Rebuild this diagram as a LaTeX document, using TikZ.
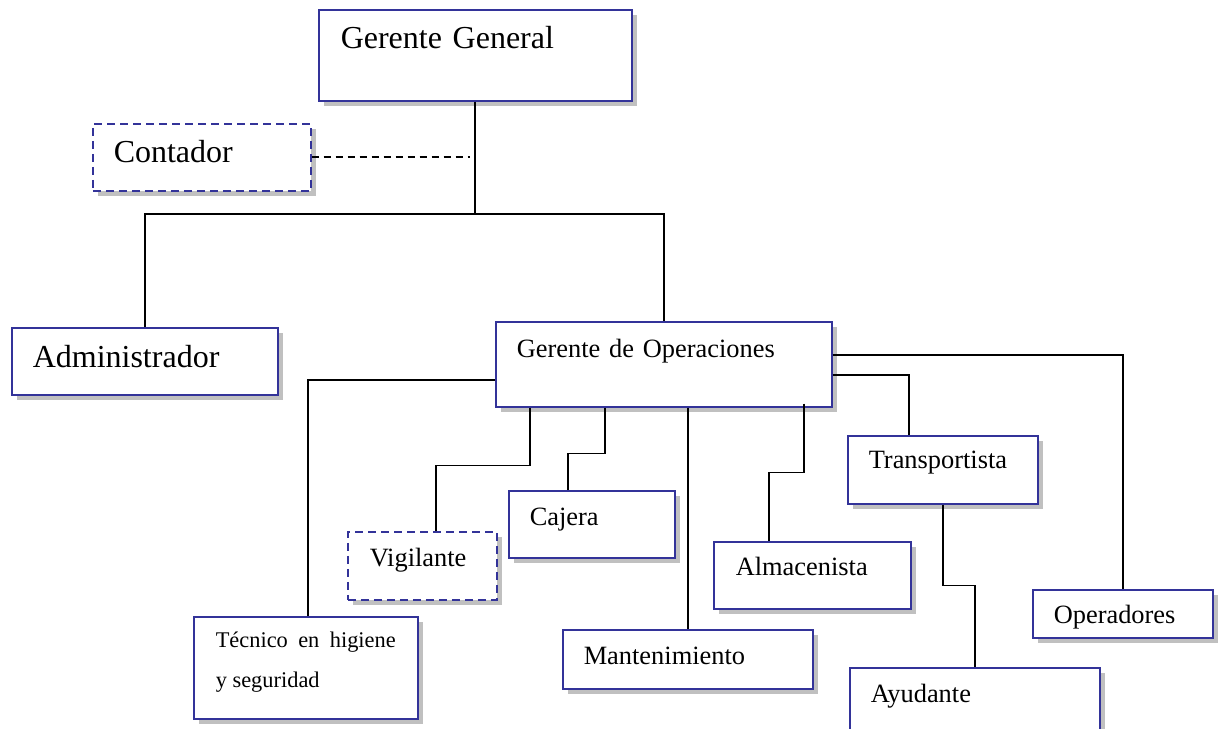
\documentclass[tikz,border=0pt]{standalone}
\usepackage{fontspec}
\setmainfont{Liberation Serif}
\usepackage{tikz}
\usepackage{xcolor}
\usetikzlibrary{positioning, shadows, calc}
\definecolor{cBorde}{HTML}{333399}
\definecolor{cSombra}{HTML}{C0C0C0}
\tikzset{
  cargo/.style={
    draw=cBorde, line width=0.75pt,
    fill=white,
    anchor=north west,
    inner xsep=10.5pt, inner ysep=0pt,
    align=left,
    font=\fontsize{13.2}{16}\selectfont,
    drop shadow={shadow xshift=2.75pt, shadow yshift=-2.75pt, fill=cSombra, opacity=1}
  },
  cargogrande/.style={
    cargo,
    font=\fontsize{16}{19}\selectfont
  },
  punteado/.style={
    dash pattern=on 4pt off 2.5pt
  },
  caja/.style n args={3}{
    text width=#1, text height=#2, text depth=#3
  },
  linea/.style={
    line width=0.8pt,
    draw=black
  }
}

\begin{document}
\begin{tikzpicture}[x=0.5pt, y=-0.5pt]
  \useasboundingbox (0,0) rectangle (1218,728);

  % direccion
  \node[cargogrande, caja={134.5pt}{19.5pt}{26pt}, inner xsep=11pt] (gg) at (318,9) {Gerente General};
  \node[cargogrande, punteado, caja={88pt}{19.5pt}{14pt}] (cont) at (92,123) {Contador};
  \node[cargogrande, caja={112pt}{20pt}{13.5pt}] (adm) at (11,327) {Administrador};
  \node[cargo, caja={147pt}{18pt}{24.5pt}] (go) at (495,321) {Gerente de Operaciones};

  % operaciones
  \node[cargo, caja={90pt}{15.5pt}{35.5pt}, inner xsep=11pt, align=justify,
        font=\fontsize{11.2}{20}\selectfont] (tec) at (193,616) {Técnico en higiene y seguridad};
  \node[cargo, punteado, caja={52.5pt}{17.5pt}{16.5pt}, inner xsep=11pt] (vig) at (347,531) {Vigilante};
  \node[cargo, caja={62pt}{17.5pt}{16pt}] (caj) at (508,490) {Cajera};
  \node[cargo, caja={104pt}{17.5pt}{12pt}] (mant) at (562,629) {Mantenimiento};
  \node[cargo, caja={76.5pt}{17pt}{16.5pt}, inner xsep=11pt] (alm) at (713,541) {Almacenista};
  \node[cargo, caja={74pt}{16.5pt}{17.5pt}] (trans) at (847,435) {Transportista};
  \node[cargo, caja={104pt}{17.5pt}{16pt}] (ayu) at (849,667) {Ayudante};
  \node[cargo, caja={69pt}{17pt}{7pt}] (op) at (1032,589) {Operadores};

  \coordinate (bus) at (gg.south |- 0,214);

  \draw[linea] (gg.south) -- (bus);
  \draw[linea] (adm.north) -- (adm.north |- bus) -- (go.north |- bus) -- (go.north);
  \draw[linea, dash pattern=on 3.5pt off 2.5pt] (cont.east) -- ++(158,0);

  \draw[linea] ([yshift=-7.75pt]go.west) -| ([xshift=1pt]tec.north);
  \draw[linea] ([xshift=-67pt]go.south) -- ++(0,58) -| ([xshift=6.75pt]vig.north);
  \draw[linea] ([xshift=-29.5pt]go.south) -- ++(0,46) -| ([xshift=-12pt]caj.north);
  \draw[linea] (go.south -| mant.north) -- (mant.north);
  \draw[linea] ([xshift=70pt,yshift=2pt]go.south) -- ++(0,69) -| ([xshift=-21.75pt]alm.north);
  \draw[linea] ([yshift=-5.25pt]go.east) -| ([xshift=-17pt]trans.north);
  \draw[linea] ([yshift=4.75pt]go.east) -| (op.north);
  \draw[linea] (trans.south) -- ++(0,81) -| (ayu.north);
\end{tikzpicture}
\end{document}
